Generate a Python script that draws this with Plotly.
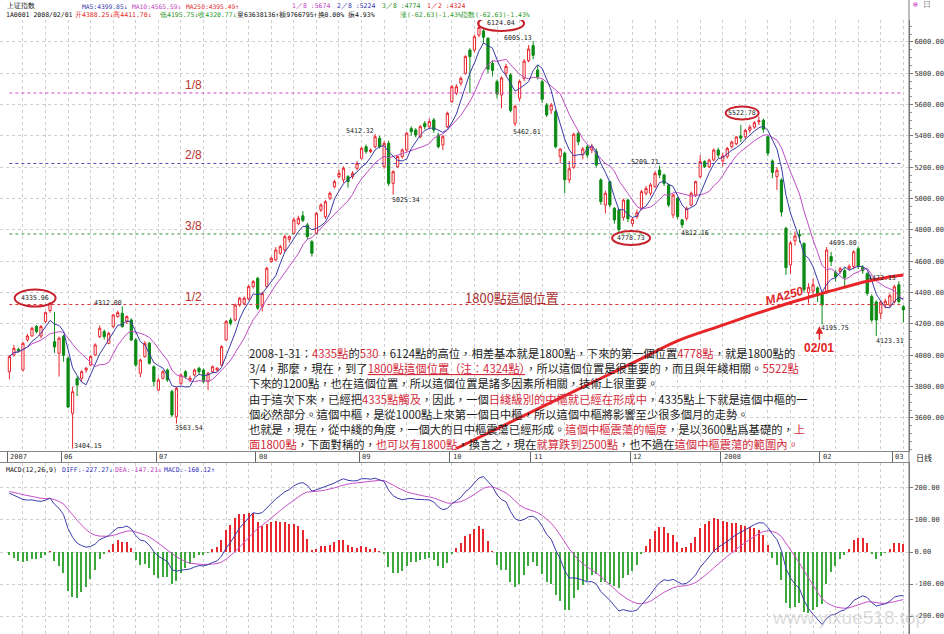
import numpy as np
import plotly.graph_objects as go

W, H = 944, 634
PLOT_W = 909

# ---------------- data ----------------
open_ = [3895, 4002, 4038, 3906, 4098, 4123, 4183, 4123, 4215, 4285,
         4087, 4013, 4119, 3981, 3630, 3850, 3853, 3906, 3938, 4002,
         4119, 4151, 4076, 4183, 4247, 4268, 4215, 4225, 4098, 3885,
         3991, 4076, 3927, 3778, 3853, 3906, 3768, 3608, 3821, 3895,
         3842, 3874, 3917, 3906, 3832, 3895, 3906, 3938, 4098, 4225,
         4225, 4321, 4332, 4360, 4438, 4491, 4310, 4438, 4598, 4608,
         4651, 4672, 4740, 4778, 4840, 4890, 4832, 4725, 4778, 4927,
         4885, 5002, 5076, 5140, 5119, 5140, 5140, 5193, 5257, 5331,
         5300, 5331, 5385, 5204, 5353, 5097, 5204, 5268, 5310, 5448,
         5438, 5395, 5480, 5459, 5502, 5406, 5342, 5459, 5619, 5672,
         5736, 5799, 5948, 5948, 6044, 6070, 6023, 5863, 5746, 5661,
         5800, 5789, 5480, 5640, 5767, 5880, 5976, 5820, 5746, 5597,
         5565, 5555, 5268, 5290, 5120, 5200, 5417, 5280, 5331, 5310,
         5300, 5119, 4959, 5108, 4938, 4927, 4880, 4991, 4840, 4885,
         4938, 5034, 5034, 5076, 5182, 5150, 5087, 4895, 5002, 4864,
         4874, 4959, 5023, 5140, 5236, 5204, 5246, 5310, 5240, 5268,
         5331, 5350, 5400, 5395, 5437, 5456, 5490, 5500, 5395, 5240,
         5140, 5119, 4810, 4576, 4730, 4770, 4714, 4400, 4410, 4430,
         4388.25, 4400, 4630, 4530, 4535, 4540, 4555, 4566, 4680, 4560,
         4520, 4375, 4340, 4268, 4322, 4320, 4340, 4450, 4310]
high_ = [4002, 4066, 4050, 4087, 4136, 4183, 4193, 4193, 4279, 4335.96,
         4276, 4119, 4130, 3991, 3800, 3865, 3905, 3925, 4000, 4076,
         4190, 4165, 4150, 4265, 4285, 4312.00, 4255, 4236, 4110, 3980,
         4090, 4085, 3935, 3855, 3905, 3915, 3780, 3800, 3885, 3905,
         3870, 3915, 3927, 3915, 3895, 3935, 3925, 4065, 4225, 4240,
         4330, 4372, 4375, 4450, 4480, 4500, 4405, 4565, 4630, 4690,
         4705, 4770, 4765, 4880, 4890, 4920, 4845, 4735, 4915, 4970,
         4990, 5045, 5120, 5185, 5205, 5150, 5175, 5240, 5330, 5345,
         5320, 5412.32, 5400, 5365, 5370, 5180, 5275, 5320, 5425, 5460,
         5450, 5470, 5495, 5510, 5515, 5420, 5405, 5555, 5725, 5730,
         5780, 5915, 5960, 6045, 6124.04, 6090, 6030, 5880, 5760, 5780,
         5860, 5800, 5600, 5760, 5890, 5980, 6005.13, 5850, 5760, 5610,
         5610, 5565, 5320, 5300, 5240, 5420, 5430, 5330, 5345, 5350,
         5320, 5130, 5050, 5115, 4945, 4935, 5000, 5000, 4880, 4930,
         5055, 5080, 5100, 5175, 5209.71, 5160, 5095, 5030, 5010, 4870,
         4950, 5045, 5115, 5278, 5245, 5255, 5320, 5325, 5290, 5330,
         5370, 5400, 5470, 5445, 5470, 5495, 5522.78, 5510, 5400, 5250,
         5200, 5130, 4820, 4730, 4790, 4800, 4720, 4460, 4490, 4440,
         4411.70, 4690, 4660, 4545, 4565, 4555, 4580, 4670, 4695.80, 4575,
         4530, 4390, 4350, 4350, 4360, 4395, 4450, 4472.15, 4320]
low_ = [3847, 3991, 4018, 3896, 4087, 4119, 4140, 4108, 4204, 4272,
        4015, 3864, 3959, 3662, 3404.15, 3740, 3830, 3890, 3930, 3995,
        4110, 4100, 4070, 4175, 4240, 4175, 4200, 4090, 3925, 3860,
        3985, 3940, 3800, 3770, 3845, 3830, 3605, 3563.54, 3810, 3850,
        3830, 3865, 3880, 3820, 3778, 3885, 3895, 3930, 4090, 4190,
        4215, 4310, 4320, 4350, 4425, 4290, 4280, 4430, 4590, 4600,
        4640, 4660, 4720, 4770, 4830, 4850, 4740, 4630, 4770, 4915,
        4870, 4990, 5065, 5130, 5100, 5070, 5125, 5180, 5250, 5285,
        5290, 5320, 5320, 5190, 5080, 5025.34, 5195, 5255, 5300, 5400,
        5390, 5385, 5440, 5445, 5420, 5320, 5310, 5450, 5610, 5660,
        5720, 5790, 5672, 5935, 6030, 5990, 5800, 5780, 5640, 5576,
        5780, 5550, 5462.01, 5620, 5750, 5870, 5890, 5760, 5610, 5520,
        5540, 5320, 5225, 5034, 5100, 5190, 5340, 5250, 5260, 5290,
        5200, 4960, 4906, 4945, 4840, 4778.73, 4860, 4850, 4821, 4870,
        4925, 5020, 5020, 5070, 5130, 5080, 4945, 4874, 4870, 4812.16,
        4860, 4950, 5010, 5130, 5195, 5195, 5240, 5260, 5204, 5255,
        5320, 5340, 5360, 5380, 5420, 5445, 5470, 5420, 5270, 5130,
        5055, 4885, 4513, 4520, 4700, 4720, 4400, 4330, 4390, 4340,
        4195.75, 4390, 4570, 4470, 4520, 4438, 4540, 4550, 4550, 4520,
        4380, 4210, 4123.31, 4230, 4300, 4305, 4330, 4330, 4210]
close_ = [3991, 4044, 4030, 4076, 4123, 4172, 4151, 4183, 4272, 4334,
          4053, 4109, 4000, 3670, 3767, 3810, 3895, 3917, 3991, 4066,
          4172, 4119, 4140, 4257, 4272, 4183, 4247, 4098, 3938, 3970,
          4076, 3949, 3832, 3842, 3895, 3842, 3619, 3789, 3874, 3863,
          3853, 3906, 3895, 3832, 3885, 3927, 3917, 4055, 4215, 4204,
          4321, 4364, 4364, 4438, 4470, 4300, 4395, 4555, 4619, 4672,
          4693, 4757, 4757, 4864, 4874, 4860, 4757, 4651, 4906, 4959,
          4980, 5034, 5108, 5161, 5193, 5108, 5161, 5225, 5321, 5300,
          5310, 5395, 5331, 5353, 5097, 5172, 5268, 5310, 5417, 5427,
          5406, 5459, 5459, 5491, 5438, 5331, 5395, 5544, 5714, 5714,
          5767, 5906, 5906, 6033, 6092, 6030, 5826, 5818, 5667, 5770,
          5843, 5562, 5589, 5748, 5877, 5954, 5914, 5777, 5634, 5534,
          5597, 5331, 5316, 5120, 5190, 5410, 5363, 5316, 5278, 5331,
          5214, 4980, 5034, 4959, 4864, 4803, 4990, 4871, 4868, 4910,
          5044, 5065, 5087, 5161, 5150, 5097, 4959, 5023, 4885, 4832,
          4938, 5034, 5108, 5236, 5204, 5246, 5310, 5278, 5272, 5320,
          5361, 5393, 5386, 5435, 5456, 5484, 5497, 5443, 5290, 5167,
          5180, 4914, 4559, 4717, 4761, 4762, 4419, 4434, 4450, 4383.40,
          4320.77, 4672, 4599, 4500, 4552, 4497, 4568, 4660, 4566, 4540,
          4395, 4225, 4225, 4340, 4345, 4380, 4437, 4343, 4290]

# MA250 (year line)
ma250_idx = [99, 110, 120, 130, 140, 148, 157, 163, 168, 174, 180, 185, 190, 194, 198]
ma250_val = [3405, 3559, 3699, 3839, 3979, 4092, 4183, 4243, 4290, 4345, 4395, 4435, 4472, 4495, 4512]

# x-axis month labels
month_idx = [0, 12, 33, 55, 78, 98, 116, 138, 158, 180, 196]
month_labels = ["2007", "06", "07", "08", "09", "10", "11", "12", "2008", "02", "03"]

# division levels
level_vals = [5674, 5224, 4774, 4324]
level_names = ["1/8", "2/8", "3/8", "1/2"]
level_colors = ["#d048c8", "#4a4ab8", "#3a9a3a", "#e03838"]

# price labels (text, centre index, centre price)
mark_text = ["4335.96", "4312.00", "3404.15", "3563.54", "5412.32", "5025.34", "6124.04",
             "6005.13", "5462.01", "5209.71", "4778.73", "4812.16", "5522.78", "4695.80",
             "4472.15", "4195.75", "4123.31"]
mark_i = [5.7, 21.8, 17.4, 39.8, 77.7, 87.8, 108.9, 112.6, 114.6, 140.8, 137.7, 151.8,
          162.3, 184.6, 193.3, 182.9, 195.0]
mark_p = [4365, 4334, 3422, 3536, 5431, 4991, 6118, 6025, 5425, 5233, 4748, 4780, 5546,
          4716, 4493, 4174, 4091]
circled = {"4335.96": (41, 17), "6124.04": (46, 15), "4778.73": (38, 14), "5522.78": (33, 13)}

# MACD start state (EMA12, EMA26, DEA) before the first bar
EMA12_SEED, EMA26_SEED, DEA_SEED = 3950.0, 3755.0, 190.0

# ---------------- derived series ----------------
N = len(close_)
idx = list(range(N))
c = np.array(close_, dtype=float)


def sma(a, n):
    return np.array([a[max(0, k - n + 1):k + 1].mean() for k in range(len(a))])


ma5 = sma(c, 5)
ma10 = sma(c, 10)

diff = np.empty(N)
dea = np.empty(N)
e12, e26, d = EMA12_SEED, EMA26_SEED, DEA_SEED
for k in range(N):
    e12 += (c[k] - e12) * 2 / 13
    e26 += (c[k] - e26) * 2 / 27
    diff[k] = e12 - e26
    d += (diff[k] - d) * 2 / 10
    dea[k] = d
hist = 2 * (diff - dea)

# ---------------- helpers (pixel -> paper) ----------------
PX_PER_I = 4.515
PX_PER_P = 0.15669


def yp(px):
    return 1 - px / H


def xp(px):
    return px / PLOT_W


RED = "#d42a3a"
UP = "#e8262e"
DOWN = "#0b8a14"
MONO = "DejaVu Sans Mono"
CJK = "Noto Sans CJK TC"

fig = go.Figure()

# level lines
for v, col in zip(level_vals, level_colors):
    fig.add_trace(go.Scatter(x=[0, N - 1], y=[v, v], mode="lines",
                             line=dict(color=col, width=1, dash="dot"),
                             hoverinfo="skip", xaxis="x", yaxis="y"))

fig.add_trace(go.Candlestick(
    x=idx, open=open_, high=high_, low=low_, close=close_,
    increasing=dict(line=dict(color=UP, width=1), fillcolor="#ffffff"),
    decreasing=dict(line=dict(color=DOWN, width=1), fillcolor=DOWN),
    whiskerwidth=0, hoverinfo="skip", xaxis="x", yaxis="y"))

fig.add_trace(go.Scatter(x=idx, y=ma10, mode="lines", line=dict(color="#c04cc4", width=1),
                         hoverinfo="skip", xaxis="x", yaxis="y"))
fig.add_trace(go.Scatter(x=idx, y=ma5, mode="lines", line=dict(color="#3a3aa6", width=1),
                         hoverinfo="skip", xaxis="x", yaxis="y"))
fig.add_trace(go.Scatter(x=ma250_idx, y=ma250_val, mode="lines",
                         line=dict(color="#e8262a", width=3, shape="spline"),
                         hoverinfo="skip", xaxis="x", yaxis="y"))

# MACD panel
fig.add_trace(go.Bar(x=idx, y=hist, width=0.3,
                     marker=dict(color=[UP if h >= 0 else "#3aa83a" for h in hist], line_width=0),
                     hoverinfo="skip", xaxis="x2", yaxis="y2"))
fig.add_trace(go.Scatter(x=idx, y=dea, mode="lines", line=dict(color="#c850c8", width=1),
                         hoverinfo="skip", xaxis="x2", yaxis="y2"))
fig.add_trace(go.Scatter(x=idx, y=diff, mode="lines", line=dict(color="#3c3caa", width=1),
                         hoverinfo="skip", xaxis="x2", yaxis="y2"))

grid_minor = dict(tickmode="linear", tick0=3, dtick=5, showgrid=True,
                  gridcolor="#cfcfcf", griddash="dot", gridwidth=1, ticks="")

fig.update_layout(
    width=W, height=H, margin=dict(l=0, r=35, t=0, b=0),
    paper_bgcolor="white", plot_bgcolor="white", showlegend=False, bargap=0,
    xaxis=dict(domain=[0, 1], range=[-2.08, 199.25], anchor="y",
               rangeslider=dict(visible=False), showgrid=False, zeroline=False,
               tickmode="array", tickvals=[m - 0.5 for m in month_idx],
               ticks="outside", ticklen=11, tickcolor="#666", showticklabels=False,
               showline=True, linecolor="#888", linewidth=1, minor=grid_minor),
    yaxis=dict(domain=[yp(451), yp(20)], range=[3389, 6139.7], side="right", anchor="x",
               tickmode="array", tickvals=list(range(3600, 6001, 200)),
               ticktext=[f"{v:.2f}" for v in range(3600, 6001, 200)],
               tickfont=dict(family=MONO, size=7, color="#333"),
               ticks="outside", ticklen=3, tickcolor="#777",
               showgrid=True, gridcolor="#cfcfcf", griddash="dot", gridwidth=1,
               zeroline=False, showline=True, linecolor="#777",
               minor=dict(tickmode="linear", tick0=0, dtick=50, ticks="outside",
                          ticklen=2, tickcolor="#999", showgrid=False)),
    xaxis2=dict(domain=[0, 1], matches="x", anchor="y2", side="top", showline=True,
                linecolor="#888", showticklabels=False, ticks="", showgrid=False,
                zeroline=False, minor=grid_minor),
    yaxis2=dict(domain=[0, yp(463)], range=[-256.25, 278.1], side="right", anchor="x2",
                tickmode="array", tickvals=[-200, -100, 0, 100, 200],
                ticktext=["-200.00", "-100.00", "0.00", "100.00", "200.00"],
                tickfont=dict(family=MONO, size=7, color="#333"),
                ticks="outside", ticklen=3, tickcolor="#777",
                showgrid=True, gridcolor="#cfcfcf", griddash="dot", gridwidth=1,
                zeroline=False, showline=True, linecolor="#777"),
)

shapes = [dict(type="line", xref="paper", yref="paper", x0=1, x1=1, y0=0, y1=1,
               line=dict(color="#777", width=1))]
ann = []


def txt(xpx, ypx, text, color="#222", size=7, family=MONO, anchor="left", **kw):
    ann.append(dict(x=xp(xpx), y=yp(ypx), xref="paper", yref="paper", text=text,
                    showarrow=False, xanchor=anchor, yanchor="middle",
                    font=dict(family=family, size=size, color=color), **kw))


# header lines
txt(5, 6, "上证指数", "#111", 7)
txt(80, 6, "MA5:4399.85↓", "#3333aa", 6.3)
txt(130, 6, "MA10:4565.59↓", "#c040c0", 6.3)
txt(184, 6, "MA250:4395.49↑", "#e02828", 6.3)
txt(290, 6, "1／8 :5674", "#c040c0", 6.5)
txt(335, 6, "2／8 :5224", "#3333aa", 6.5)
txt(380, 6, "3／8 :4774", "#2a8a2a", 6.5)
txt(425, 6, "1／2 :4324", "#e02828", 6.5)
txt(4, 15, "1A0001 2008/02/01", "#111", 6.5)
txt(73, 15, "开4388.25↓高4411.70↓", "#e02828", 6.5)
txt(158, 15, "低4195.75↓收4320.77↓", "#2a9a2a", 6.5)
txt(235, 15, "量63638136↑额9766795↑换0.00% 振4.93%", "#111", 6.5)
txt(398, 15, "涨(-62.63)-1.43%", "#2a9a2a", 6.5)
txt(458, 15, "指数(-62.63)-1.43%", "#2a9a2a", 6.5)
txt(911, 5, "<span style='color:#c030c0'>⊕</span> 日", "#888", 8)

# MACD header
txt(4, 470, "MACD(12,26,9)", "#111", 6.5)
txt(60, 470, "DIFF:-227.27↓", "#3333bb", 6.5)
txt(113, 470, "DEA:-147.21↓", "#c040c0", 6.5)
txt(162, 470, "MACD:-160.12↑", "#3333bb", 6.5)

# x labels
for m, lab in zip(month_idx, month_labels):
    ann.append(dict(x=m - 0.25, y=yp(457), xref="x", yref="paper", text=lab, showarrow=False,
                    xanchor="left", yanchor="middle", font=dict(family=MONO, size=7, color="#333")))
txt(914, 457, "日线", "#222", 8, CJK)

# level labels
for v, name in zip(level_vals, level_names):
    ann.append(dict(x=xp(183), y=v, xref="paper", yref="y", text=name, showarrow=False,
                    xanchor="left", yanchor="middle", yshift=8,
                    font=dict(family="Liberation Sans", size=12, color="#b83434")))

# price marks
for t, i, p in zip(mark_text, mark_i, mark_p):
    ann.append(dict(x=i, y=p, xref="x", yref="y", text=t, showarrow=False,
                    xanchor="center", yanchor="middle",
                    font=dict(family=MONO, size=6.6, color="#222")))
    if t in circled:
        wpx, hpx = circled[t]
        shapes.append(dict(type="circle", xref="x", yref="y",
                           x0=i - wpx / 2 / PX_PER_I, x1=i + wpx / 2 / PX_PER_I,
                           y0=p - hpx / 2 / PX_PER_P, y1=p + hpx / 2 / PX_PER_P,
                           line=dict(color="#c8202c", width=2)))

# 1800 label, MA250 label, 02/01 arrow
txt(463, 297, "1800點這個位置", "#a83030", 13, CJK)
txt(784, 296, "<b><i>MA250</i></b>", "#e02424", 12, "Liberation Sans", anchor="center",
    textangle=-16)
ann.append(dict(x=179.4, y=4185, xref="x", yref="y", text="<b>02/01</b>", showarrow=True,
                arrowhead=2, arrowsize=1, arrowwidth=1.5, arrowcolor="#e02424",
                ax=0, ay=22, font=dict(family="Liberation Sans", size=12, color="#e02424")))

# commentary text block
def r(s):
    return f"<span style='color:{RED}'>{s}</span>"


lines = [
    "2008-1-31：" + r("4335點") + "的" + r("530") + "，6124點的高位，相差基本就是1800點，下來的第一個位置"
    + r("4778點") + "，就是1800點的",
    "3/4，那麼，現在，到了" + r("<u>1800點這個位置（注：4324點）</u>") + "，所以這個位置是很重要的，而且與年綫相關。"
    + r("5522點"),
    "下來的1200點，也在這個位置，所以這個位置是諸多因素所相關，技術上很重要。",
    "由于這次下來，已經把" + r("4335點觸及") + "，因此，一個" + r("日綫級別的中樞就已經在形成中")
    + "，4335點上下就是這個中樞的一",
    "個必然部分。這個中樞，是從1000點上來第一個日中樞，所以這個中樞將影響至少很多個月的走勢。",
    "也就是，現在，從中綫的角度，一個大的日中樞震蕩已經形成。" + r("這個中樞震蕩的幅度")
    + "，是以3600點爲基礎的，" + r("上"),
    r("面1800點") + "，下面對稱的，" + r("也可以有1800點") + "，換言之，現在" + r("就算跌到2500點")
    + "，也不過在" + r("這個中樞震蕩的範圍內。"),
]
for k, line in enumerate(lines):
    txt(247, 353 + k * 15.2, line, "#1c1c1c", 11.3, CJK)

# watermark
txt(770, 617, "www.yixue518.top", "rgba(190,190,190,0.55)", 19, "Liberation Sans")

fig.update_layout(annotations=ann, shapes=shapes)
fig.write_html("out.html")
